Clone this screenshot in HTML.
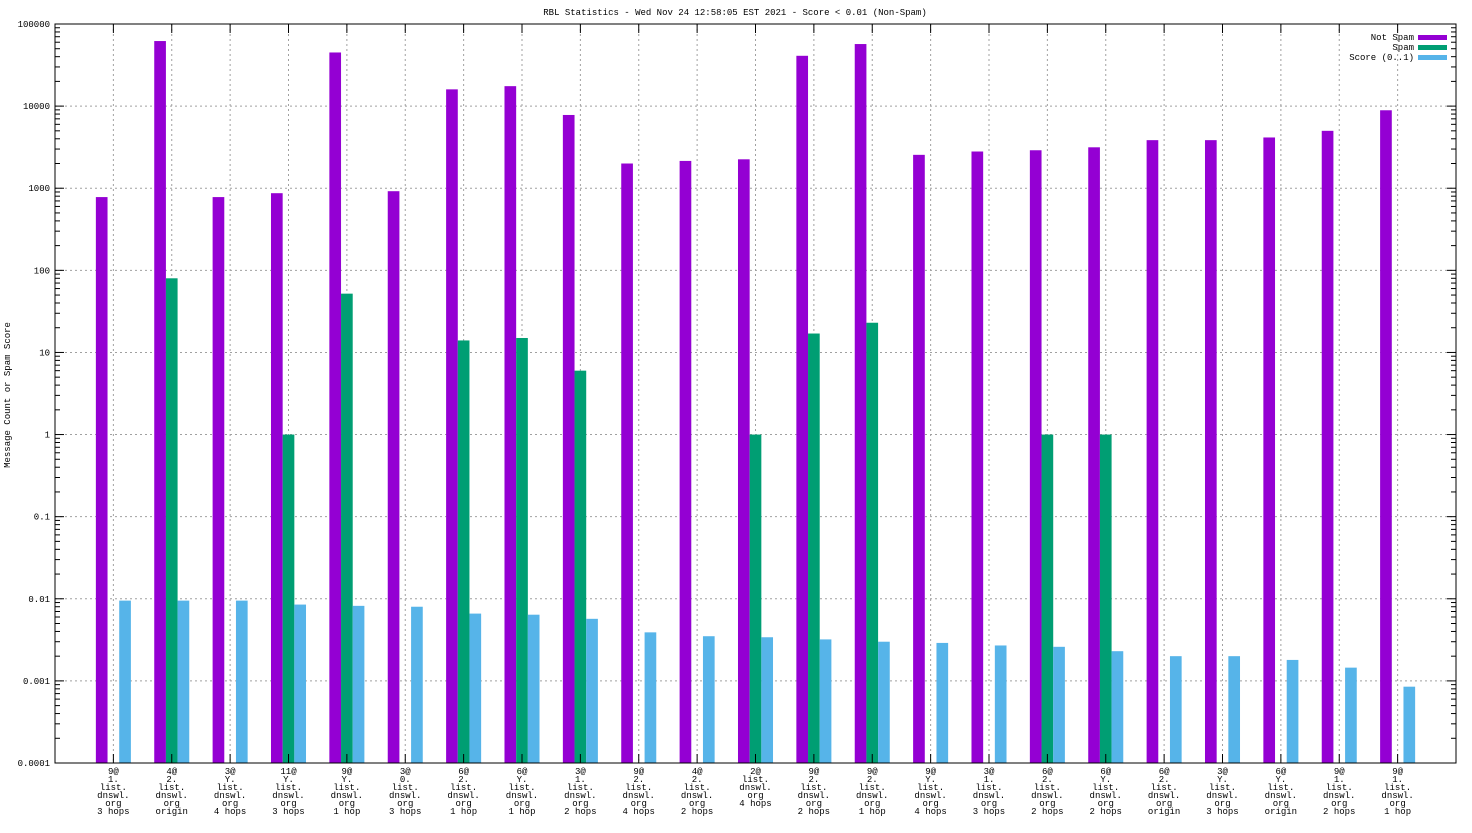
<!DOCTYPE html>
<html><head><meta charset="utf-8"><style>
body{margin:0;background:#fff;}
svg text{font-family:"Liberation Mono","DejaVu Sans Mono",monospace;font-size:9px;fill:#000;}
</style></head><body>
<svg id="chart" width="1472" height="828" xmlns="http://www.w3.org/2000/svg">
<rect width="1472" height="828" fill="#fff"/>
<text x="735" y="15" text-anchor="middle">RBL Statistics - Wed Nov 24 12:58:05 EST 2021 - Score &lt; 0.01 (Non-Spam)</text>
<text transform="translate(10,395) rotate(-90)" text-anchor="middle">Message Count or Spam Score</text>
<g id="grid"></g><g id="bars"></g><g id="axes"></g>
<g>
<text x="1414" y="40" text-anchor="end">Not Spam</text>
<rect x="1418" y="35" width="29" height="5" fill="#9400d3"/>
<text x="1414" y="50" text-anchor="end">Spam</text>
<rect x="1418" y="45" width="29" height="5" fill="#009e73"/>
<text x="1414" y="60" text-anchor="end">Score (0..1)</text>
<rect x="1418" y="55" width="29" height="5" fill="#56b4e9"/>
</g>
</svg>
<script>
const categories=[
["9@","1.","list.","dnswl.","org","3 hops"],["4@","2.","list.","dnswl.","org","origin"],["3@","Y.","list.","dnswl.","org","4 hops"],["11@","Y.","list.","dnswl.","org","3 hops"],["9@","Y.","list.","dnswl.","org","1 hop"],["3@","0.","list.","dnswl.","org","3 hops"],["6@","2.","list.","dnswl.","org","1 hop"],["6@","Y.","list.","dnswl.","org","1 hop"],["3@","1.","list.","dnswl.","org","2 hops"],["9@","2.","list.","dnswl.","org","4 hops"],["4@","2.","list.","dnswl.","org","2 hops"],["2@","list.","dnswl.","org","4 hops"],["9@","2.","list.","dnswl.","org","2 hops"],["9@","2.","list.","dnswl.","org","1 hop"],["9@","Y.","list.","dnswl.","org","4 hops"],["3@","1.","list.","dnswl.","org","3 hops"],["6@","2.","list.","dnswl.","org","2 hops"],["6@","Y.","list.","dnswl.","org","2 hops"],["6@","2.","list.","dnswl.","org","origin"],["3@","Y.","list.","dnswl.","org","3 hops"],["6@","Y.","list.","dnswl.","org","origin"],["9@","1.","list.","dnswl.","org","2 hops"],["9@","1.","list.","dnswl.","org","1 hop"]];
const notSpam=[780,62000,780,870,45000,920,16000,17500,7800,2000,2150,2250,41000,57000,2550,2800,2900,3150,3850,3850,4150,5000,8900];
const spam=[0,80,0,1,52,0,14,15,6,0,0,1,17,23,0,0,1,1,0,0,0,0,0];
const score=[0.0095,0.0095,0.0095,0.0085,0.0082,0.008,0.0066,0.0064,0.0057,0.0039,0.0035,0.0034,0.0032,0.0030,0.0029,0.0027,0.0026,0.0023,0.0020,0.0020,0.0018,0.00145,0.00085];
const yTickLabels=["0.0001","0.001","0.01","0.1","1","10","100","1000","10000","100000"];

const NS="http://www.w3.org/2000/svg";
const L=55,R=1456,T=24,B=763;
const unit=(R-L)/24;
const xs=i=>L+unit*(i+1);
const ys=v=>B-(Math.log10(v)+4)*(B-T)/9;
function mk(tag,attrs,parent){const e=document.createElementNS(NS,tag);for(const k in attrs)e.setAttribute(k,attrs[k]);parent.appendChild(e);return e;}
const grid=document.getElementById('grid'),bars=document.getElementById('bars'),axes=document.getElementById('axes');
yTickLabels.forEach((lab,k)=>{const y=ys(Math.pow(10,k-4));
 if(k>0&&k<9){const g=mk('line',{x1:L,x2:R,y1:y,y2:y,stroke:'#a0a0a0','stroke-dasharray':'2,3','stroke-width':1},grid);
 
 }
 const t=mk('text',{x:L-5,y:y+3,'text-anchor':'end'},axes);t.textContent=lab;
 
 
 mk('line',{x1:L,x2:L+9,y1:y,y2:y,stroke:'#000'},axes);mk('line',{x1:R,x2:R-9,y1:y,y2:y,stroke:'#000'},axes);
 if(k<9)for(let m=2;m<10;m++){const ym=ys(m*Math.pow(10,k-4));mk('line',{x1:L,x2:L+5,y1:ym,y2:ym,stroke:'#000'},axes);mk('line',{x1:R,x2:R-5,y1:ym,y2:ym,stroke:'#000'},axes);}
});
categories.forEach((c,i)=>{const x=xs(i);
 const g=mk('line',{x1:x,x2:x,y1:T,y2:B,stroke:'#a0a0a0','stroke-dasharray':'2,3'},grid);
 
 
 mk('line',{x1:x,x2:x,y1:B,y2:B-9,stroke:'#000'},axes);
 mk('line',{x1:x,x2:x,y1:T,y2:T+9,stroke:'#000'},axes);
 const t=mk('text',{x:x,y:774,'text-anchor':'middle'},axes);
 
 
 c.forEach((ln,j)=>{const s=mk('tspan',{x:x,dy:j?8:0},t);s.textContent=ln;});
});
const bw=unit*0.2;
const series=[[notSpam,'#9400d3',-1,'bar-not-spam'],[spam,'#009e73',0,'bar-spam'],[score,'#56b4e9',1,'bar-score']];
series.forEach(([arr,col,off,name])=>{arr.forEach((v,i)=>{if(!(v>0))return;
 const cx=xs(i)+off*bw;const y=ys(v);
 const r=mk('rect',{x:cx-bw/2,y:y,width:bw,height:B-y,fill:col},bars);
 
 
});});
const frame=mk('rect',{x:L,y:T,width:R-L,height:B-T,fill:'none',stroke:'#000','stroke-width':1},axes);


</script>
</body></html>
